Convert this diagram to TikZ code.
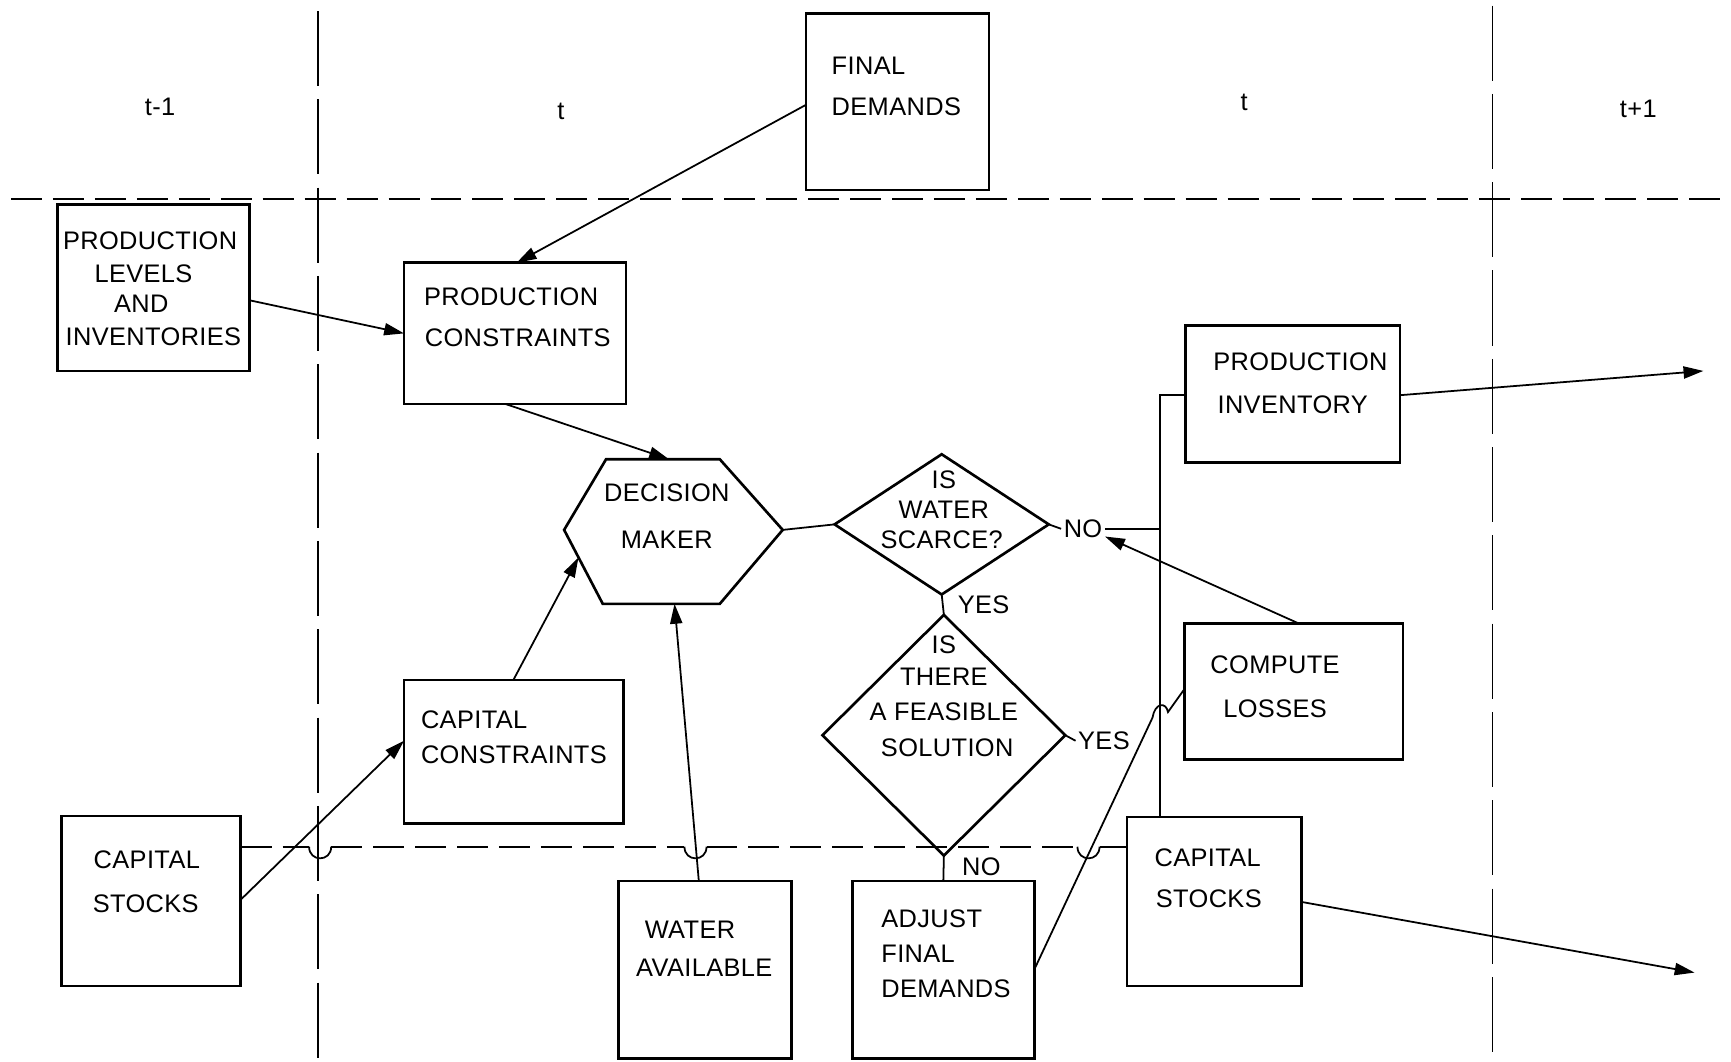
\documentclass[tikz,border=0pt]{standalone}
\usepackage{fontspec}
\setmainfont{Liberation Sans}[LetterSpace=1.5]
\usetikzlibrary{arrows.meta,shapes.geometric,calc,fit}
\begin{document}
\begin{tikzpicture}[x=0.5pt,y=-0.5pt,
  box/.style={draw,line width=1.2pt,inner sep=0pt,outer sep=0pt},
  lbl/.style={inner sep=0pt,font=\fontsize{11.5}{13}\selectfont},
  tag/.style={inner sep=1pt,font=\fontsize{11.5}{13}\selectfont},
  conn/.style={line width=0.8pt},
  arr/.style={conn,-{Triangle[length=9pt,width=5.5pt]}},
  hsep/.style={line width=0.8pt,dash pattern=on 14pt off 5pt},
  vsep/.style={line width=0.8pt,dash pattern=on 34pt off 6pt},
  dec/.style={draw,diamond,line width=1.2pt,inner sep=0pt,outer sep=0pt}]
\useasboundingbox (0,0) rectangle (1568,962);

% separators
\draw[hsep] (10,180) -- (1568,180);
\draw[vsep] (288,10) -- (288,962);
\draw[vsep] (1352,5) -- (1352,962);

% period labels
\node[lbl] (tm1) at (145,97) {t-1};
\node[lbl] (t1) at (508,101) {t};
\node[lbl] (t2) at (1127,93) {t};
\node[lbl] (tp1) at (1484,99) {t+1};

% boxes
\node[box,fit={(730,12) (896,172)}] (fd) {};
\node[box,fit={(52,185) (226,336)}] (pli) {};
\node[box,fit={(366,238) (567,366)}] (pc) {};
\node[box,fit={(366,616) (565,746)}] (cc) {};
\node[box,fit={(56,739) (218,893)}] (csl) {};
\node[box,fit={(560,798) (717,959)}] (wa) {};
\node[box,fit={(772,798) (937,959)}] (ad) {};
\node[box,fit={(1074,295) (1268,419)}] (pi) {};
\node[box,fit={(1073,565) (1271,688)}] (cl) {};
\node[box,fit={(1021,740) (1179,893)}] (csr) {};

% decision maker hexagon
\draw[line width=1.2pt] (549,416) -- (652,416) -- (709,480) -- (652,547) -- (546,547) -- (511,480) -- cycle;
\coordinate (dmT) at (606,416);
\coordinate (dmL) at (524,505);
\coordinate (dmB) at (611,547);
\coordinate (dmR) at (709,480);

% diamonds
\node[dec,minimum width=97pt,minimum height=63.5pt] (ws) at (853,475) {};
\node[dec,minimum width=110pt,minimum height=109pt] (fs) at (855,666) {};

% texts
\node[lbl,anchor=west] at (753,60) {FINAL};
\node[lbl,anchor=west] at (753,97) {DEMANDS};
\node[lbl] at (136,218) {PRODUCTION};
\node[lbl] at (130,248) {LEVELS};
\node[lbl] at (128,275) {AND};
\node[lbl] at (139,305) {INVENTORIES};
\node[lbl] at (463,269) {PRODUCTION};
\node[lbl] at (469,306) {CONSTRAINTS};
\node[lbl] at (604,446) {DECISION};
\node[lbl] at (604,489) {MAKER};
\node[lbl] at (855,435) {IS};
\node[lbl] at (855,462) {WATER};
\node[lbl] at (853,489) {SCARCE?};
\node[lbl] at (855,584) {IS};
\node[lbl] at (855,613) {THERE};
\node[lbl] at (855,645) {A FEASIBLE};
\node[lbl] at (858,677) {SOLUTION};
\node[lbl] at (1178,328) {PRODUCTION};
\node[lbl] at (1171,367) {INVENTORY};
\node[lbl] at (1155,602) {COMPUTE};
\node[lbl] at (1155,642) {LOSSES};
\node[lbl] at (1094,777) {CAPITAL};
\node[lbl] at (1095,814) {STOCKS};
\node[lbl] at (133,779) {CAPITAL};
\node[lbl] at (132,819) {STOCKS};
\node[lbl,anchor=west] at (381,652) {CAPITAL};
\node[lbl,anchor=west] at (381,684) {CONSTRAINTS};
\node[lbl] at (625,842) {WATER};
\node[lbl] at (638,877) {AVAILABLE};
\node[lbl,anchor=west] at (798,832) {ADJUST};
\node[lbl,anchor=west] at (798,864) {FINAL};
\node[lbl,anchor=west] at (798,896) {DEMANDS};

% branch labels
\node[tag] (yes1) at (891,548) {YES};
\node[tag] (no2) at (889,785) {NO};
\node[tag] (no1) at (981,479) {NO};
\node[tag] (yes2) at (1000,671) {YES};

% lower dashed separator with hops
\draw[hsep] (csl.east |- 0,767) -- (280,767);
\draw[conn] (280,767) .. controls (280,781) and (300,781) .. (300,767);
\draw[hsep] (300,767) -- (620,767);
\draw[conn] (620,767) .. controls (620,781) and (640,781) .. (640,767);
\draw[hsep] (640,767) -- (976,767);
\draw[conn] (976,767) .. controls (976,781) and (996,781) .. (996,767);
\draw[hsep] (996,767) -- (csr.west |- 0,767);

% connectors
\draw[arr] ($(fd.north west)+(0,83)$) -- ($(pc.north west)+(102,0)$);
\draw[arr] ($(pli.north east)+(0,87)$) -- ($(pc.north west)+(0,64)$);
\draw[arr] ($(pc.south west)+(92,0)$) -- (dmT);
\draw[arr] ($(cc.north west)+(99,0)$) -- (dmL);
\draw[arr] ($(csl.north east)+(0,76)$) -- ($(cc.north west)+(0,55)$);
\draw[arr] ($(wa.north west)+(73,0)$) -- (dmB);
\draw[conn] (dmR) -- (ws.west);
\draw[conn] (ws.south) -- (fs.north);
\draw[conn] (fs.south) -- (ad.north);
\draw[conn] (ws.east) -- (no1.west);
\draw[conn] (fs.east) -- (yes2.west);
\draw[conn] ($(pi.north west)+(0,63)$) -| ($(csr.north west)+(30,0)$);
\draw[conn] (no1.east) -- (no1.east -| 1051,0);
\coordinate (noTip) at (1001,486);
\draw[arr] ($(cl.north west)+(104,0)$) -- (noTip);
\draw[conn] ($(ad.north east)+(0,80)$) -- (1044,650)
  .. controls (1046,637) and (1056,635) .. (1058,645) -- ($(cl.north west)+(0,59)$);
\coordinate (piOut) at (1543,336);
\coordinate (csOut) at (1535,881);
\draw[arr] ($(pi.north east)+(0,63)$) -- (piOut);
\draw[arr] ($(csr.north east)+(0,77)$) -- (csOut);
\end{tikzpicture}
\end{document}
